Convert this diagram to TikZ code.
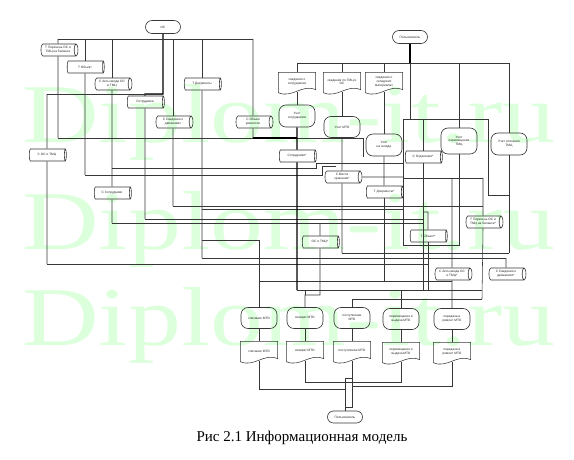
\documentclass[tikz,border=0pt]{standalone}
\usepackage{graphicx}
\usepackage{fontspec}
\setmainfont{Liberation Serif}
\newfontfamily\nodesans{Liberation Sans}
\usetikzlibrary{shapes.geometric,shapes.misc}
\definecolor{wm}{RGB}{220,255,220}
\definecolor{ln}{RGB}{55,55,55}
\newcommand\docpath[1]{\draw[wire] ([yshift=-1pt]#1.south west) -- (#1.north west) -- (#1.north east) -- ([yshift=2pt]#1.south east) .. controls +(-14pt,6pt) and +(14pt,-6pt) .. ([yshift=-1pt]#1.south west);}
\tikzset{
 lbl/.style={font=\nodesans\fontsize{3.2}{3.7}\selectfont, align=center, text=black!85},
 term/.style={lbl, draw=ln, line width=0.6pt, rounded rectangle, minimum width=36pt, minimum height=13pt, inner sep=0.5pt},
 cyl/.style={lbl, draw=ln, line width=0.6pt, cylinder, aspect=0.5, minimum height=37pt, minimum width=12pt, inner sep=0.5pt},
 disp/.style={lbl, draw=ln, line width=0.6pt, rounded corners=7pt, minimum width=36pt, minimum height=22pt, inner sep=0.5pt},
 docbox/.style={lbl, minimum width=37pt, minimum height=19pt, inner sep=0.5pt},
 wire/.style={draw=ln, line width=0.55pt},
 boldwire/.style={draw=black, line width=1.2pt},
 wmark/.style={anchor=base west, inner sep=0pt, text=wm},
}
\begin{document}
\begin{tikzpicture}[x=1pt,y=-1pt]
\useasboundingbox (0,0) rectangle (574,460);
% watermark
\node[wmark] (wmA) at (22,143) {\resizebox{533pt}{58pt}{Diplom-it.ru}};
\node[wmark] (wmB) at (22,250) {\resizebox{533pt}{58pt}{Diplom-it.ru}};
\node[wmark] (wmC) at (22,345) {\resizebox{533pt}{58pt}{Diplom-it.ru}};
% terminals
\node[term] (IS) at (163,27) {ИС};
\node[term] (U1) at (410,37) {Пользователь};
\node[term, minimum height=12pt] (U2) at (345,417) {Пользователь};
% data stores
\node[cyl] (c1) at (58,50) {Т Перечень ОС и\\ТМЦ на балансе};
\node[cyl] (c2) at (85,67) {Т Объект};
\node[cyl] (c3) at (112,84) {С Акты ввода ОС\\и ТМЦ};
\node[cyl] (c4) at (202,84) {Т Документы};
\node[cyl] (c5) at (145,102) {Сотрудники};
\node[cyl] (c6) at (173,122) {С Сведения о\\движениях};
\node[cyl] (c7) at (253,122) {С Объем\\ремонтов};
\node[cyl] (c8) at (47,155) {С ОС и ТМЦ};
\node[cyl] (c9) at (112,193) {С Сотрудники};
\node[cyl] (c10) at (297,156) {Сотрудники*};
\node[cyl] (c11) at (342,177) {С Места\\хранения*};
\node[cyl] (c12) at (423,157) {С Отделения*};
\node[cyl] (c13) at (384,192) {Т Документы*};
\node[cyl] (c14) at (483,222) {Т Перечень ОС и\\ТМЦ на балансе*};
\node[cyl] (c15) at (428,236) {Т Объект*};
\node[cyl] (c16) at (320,242) {ОС и ТМЦ*};
\node[cyl] (c17) at (452,274) {С Акты ввода ОС\\и ТМЦ*};
\node[cyl] (c18) at (506,274) {С Сведения о\\движениях*};
% documents top
\node[docbox] (t1) at (297,82) {сведения о\\сотрудниках};
\node[docbox] (t2) at (342,82) {сведения по ТМЦ и\\ОС};
\node[docbox] (t3) at (384,82) {сведения о\\складских\\материалах};
% processes
\node[disp] (d1) at (297,116) {Учет\\сотрудников};
\node[disp, minimum height=21pt] (d2) at (342,127) {Учет МТО};
\node[disp] (d3) at (384,145) {Учет\\на складе};
\node[disp, minimum height=26pt] (d4) at (459,141) {Учет\\перемещения\\ТМЦ};
\node[disp] (d5) at (509,144) {Учет списания\\ТМЦ};
\node[disp, minimum height=21pt] (p1) at (259,318) {списание МТО};
\node[disp, minimum height=21pt] (p2) at (305,318) {возврат МТО};
\node[disp, minimum height=21pt] (p3) at (352,318) {поступление\\МТО};
\node[disp, minimum height=21pt] (p4) at (401,319) {перемещение и\\выдача МТО};
\node[disp, minimum height=21pt] (p5) at (452,319) {передача в\\ремонт МТО};
% documents bottom
\node[docbox] (b1) at (259,351) {списание МТО};
\node[docbox] (b2) at (305,351) {возврат МТО};
\node[docbox] (b3) at (352,351) {поступление МТО};
\node[docbox] (b4) at (401,352) {перемещение и\\выдача МТО};
\node[docbox] (b5) at (452,352) {передача в\\ремонт МТО};
\foreach \d in {t1,t2,t3,b1,b2,b3,b4,b5} {\docpath{\d}}
% caption
\node[font=\fontsize{15}{18}\selectfont, anchor=base] (cap) at (302,441) {Рис 2.1 Информационная модель};
% junction coordinates
\coordinate (tA) at (58,39);
\coordinate (tB) at (253,39);
\coordinate (k0) at (47,94);
\coordinate (k1) at (163,94);
\coordinate (k2) at (145,94);
\coordinate (e58) at (58,138);
\coordinate (e85) at (85,175);
\coordinate (e112) at (112,223);
\coordinate (e145) at (145,219);
\coordinate (e173) at (173,206);
\coordinate (e202) at (202,258);
\coordinate (e253) at (253,138);
\coordinate (e47) at (47,264);
\coordinate (f168a) at (112,168);
\coordinate (f168b) at (316,168);
\coordinate (f168c) at (316,163);
\coordinate (f168d) at (403,163);
\coordinate (f175b) at (322,175);
\coordinate (f175c) at (322,166);
\coordinate (f175d) at (336,166);
\coordinate (f138e) at (363,138);
\coordinate (f138d) at (363,157);
\coordinate (f206e) at (483,206);
\coordinate (f209a) at (202,209);
\coordinate (f209e) at (403,209);
\coordinate (f219e) at (423,219);
\coordinate (f223e) at (423,223);
\coordinate (f240a) at (202,240);
\coordinate (f240e) at (259,240);
\coordinate (f253a) at (342,253);
\coordinate (f253e) at (509,253);
\coordinate (f258e) at (506,258);
\coordinate (f264e) at (428,264);
\coordinate (f281a) at (259,281);
\coordinate (f281e) at (452,281);
\coordinate (f290a) at (297,290);
\coordinate (f290e) at (482,290);
\coordinate (f299a) at (352,299);
\coordinate (f299e) at (482,299);
\coordinate (f178a) at (403,178);
\coordinate (f178e) at (483,178);
\coordinate (f119a) at (403,119);
\coordinate (f119e) at (488,119);
\coordinate (g195a) at (488,195);
\coordinate (g195e) at (509,195);
\coordinate (u63) at (410,63);
\coordinate (bus63a) at (297,63);
\coordinate (bus63e) at (509,63);
\coordinate (g245a) at (459,245);
\coordinate (g245b) at (403,245);
\coordinate (g212a) at (423,212);
\coordinate (g212b) at (428,212);
\coordinate (g295a) at (320,295);
\coordinate (g295b) at (305,295);
\coordinate (g290p) at (305,290);
\coordinate (g223c) at (320,223);
\coordinate (g178c) at (452,178);
\coordinate (g177e) at (403,177);
\coordinate (g290p4) at (401,290);
\coordinate (q1) at (259,389);
\coordinate (q1e) at (345,389);
\coordinate (q2) at (305,382);
\coordinate (q2e) at (401,382);
\coordinate (q3) at (352,378);
\coordinate (q5) at (452,386);
\coordinate (q5e) at (352,386);
\coordinate (bxa) at (345,378);
\coordinate (bxb) at (352,407);
\coordinate (q0) at (345,407);
% top-left connectors
\draw[boldwire] (IS.south) -- (k1) -- (k2) -- (c5.north);
\draw[wire] (tA) -- (tB);
\draw[wire] (k0) -- (k1);
\draw[wire] (tA) -- (c1.north);
\draw[wire] (c1.south) -- (e58);
\draw[wire] (c2.north |- tA) -- (c2.north);
\draw[wire] (c2.south) -- (e85);
\draw[wire] (c3.north |- tA) -- (c3.north);
\draw[wire] (c3.south) -- (c9.north);
\draw[wire] (c9.south) -- (e112);
\draw[wire] (c6.north |- tA) -- (c6.north);
\draw[wire] (c6.south) -- (e173);
\draw[wire] (c4.north |- tA) -- (c4.north);
\draw[wire] (c4.south) -- (e202);
\draw[wire] (tB) -- (c7.north);
\draw[wire] (c7.south) -- (e253);
\draw[wire] (c5.south) -- (e145);
\draw[wire] (k0) -- (c8.north);
\draw[wire] (c8.south) -- (e47);
% horizontal runs
\draw[wire] (e47) -- (f264e);
\draw[wire] (e58) -- (f138e) -- (f138d);
\draw[boldwire] (e253) -- (e253 -| d1.south);
\draw[wire] (f168a) -- (f168b) -- (f168c) -- (f168d);
\draw[wire] (e85) -- (f175b) -- (f175c) -- (f175d);
\draw[wire] (e173) -- (f206e);
\draw[wire] (f209a) -- (f209e);
\draw[wire] (e145) -- (f219e);
\draw[wire] (e112) -- (f223e);
\draw[wire] (f240a) -- (f240e);
\draw[wire] (f253a) -- (f253e);
\draw[wire] (e202) -- (f258e);
\draw[wire] (f281a) -- (f281e);
\draw[wire] (f290a) -- (f290e);
\draw[wire] (f299a) -- (f299e);
\draw[wire] (f178a) -- (f178e);
\draw[wire] (f119a) -- (f119e);
\draw[wire] (c11.east) -- (g177e);
% right-hand (user) connectors
\draw[boldwire] (U1.south) -- (u63);
\draw[wire] (bus63a) -- (bus63e);
\draw[wire] (u63) -- (u63 |- f119a);
\draw[wire] (bus63a) -- (t1.north);
\draw[wire] (t1.south) -- (d1.north);
\draw[boldwire] (d1.south) -- (c10.north);
\draw[boldwire] (c10.south) -- (f290a);
\draw[wire] (t2.north |- bus63a) -- (t2.north);
\draw[wire] (t2.south) -- (d2.north);
\draw[wire] (d2.south) -- (c11.north);
\draw[wire] (c11.south) -- (f253a);
\draw[wire] (t3.north |- bus63a) -- (t3.north);
\draw[wire] (t3.south) -- (d3.north);
\draw[wire] (d3.south) -- (c13.north);
\draw[wire] (c13.south) -- (c13.south |- f281a);
\draw[wire] (d4.north |- bus63a) -- (d4.north);
\draw[wire] (d4.south) -- (g245a) -- (g245b) -- (f119a);
\draw[wire] (bus63e) -- (d5.north);
\draw[wire] (d5.south) -- (f253e);
\draw[wire] (f119e) -- (g195a) -- (g195e);
\draw[wire] (c12.north |- f119a) -- (c12.north);
\draw[wire] (c12.south) -- (c12.south |- f290a);
\draw[wire] (g212a) -- (g212b) -- (c15.north);
\draw[wire] (c15.south) -- (c15.south |- f290a);
\draw[wire] (f178e) -- (c14.north);
\draw[wire] (c14.south) -- (f299e);
\draw[wire] (g178c) -- (c17.north);
\draw[wire] (f258e) -- (c18.north);
\draw[wire] (g223c) -- (c16.north);
\draw[wire] (c16.south) -- (g295a) -- (g295b) -- (p2.north);
\draw[wire] (g290p) -- (g295b);
\draw[wire] (f240e) -- (p1.north);
\draw[wire] (f299a) -- (p3.north);
\draw[wire] (g290p4) -- (p4.north);
\draw[wire] (c17.south) -- (p5.north);
% processes to documents
\draw[wire] (p1.south) -- (b1.north);
\draw[wire] (p2.south) -- (b2.north);
\draw[wire] (p3.south) -- (b3.north);
\draw[wire] (p4.south) -- (b4.north);
\draw[wire] (p5.south) -- (b5.north);
% bottom collection
\draw[wire] (b1.south) -- (q1) -- (q1e);
\draw[wire] (b2.south) -- (q2) -- (q2e) -- (b4.south);
\draw[wire] (b3.south) -- (q3);
\draw[wire] (b5.south) -- (q5) -- (q5e);
\draw[wire] (bxa) rectangle (bxb);
\draw[wire] (q0) -- (U2.north);
\end{tikzpicture}
\end{document}
